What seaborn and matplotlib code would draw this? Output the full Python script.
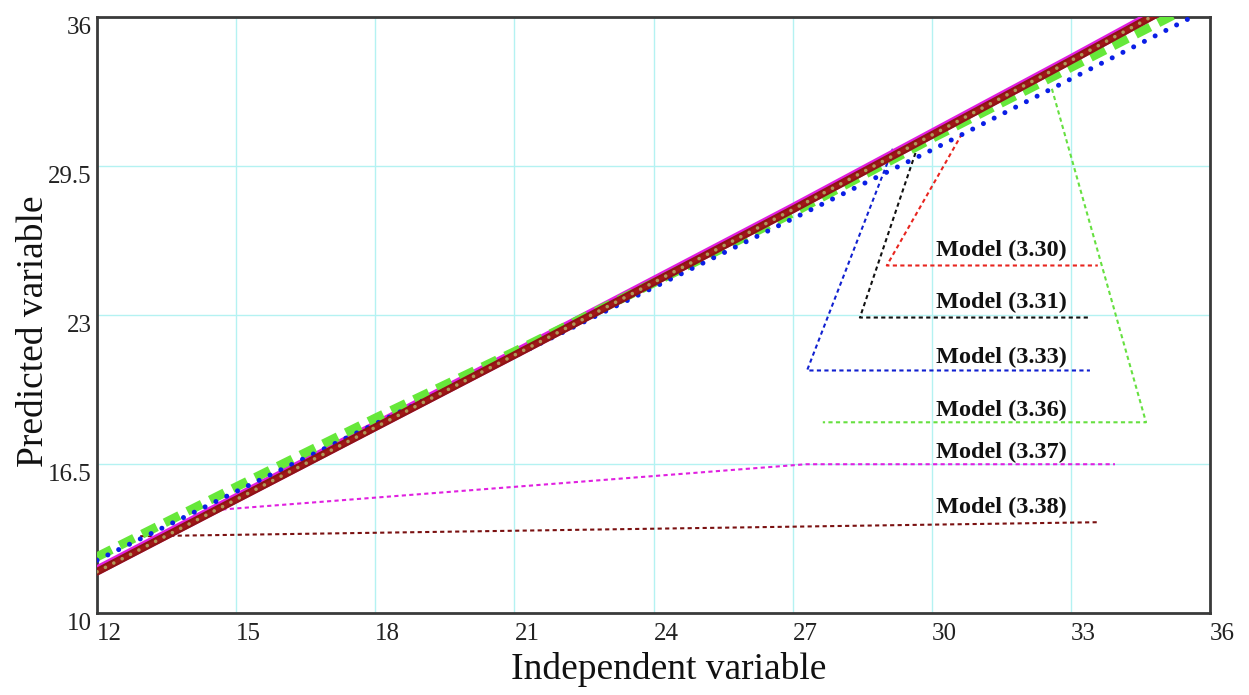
import matplotlib
matplotlib.use("Agg")
import matplotlib.pyplot as plt
import seaborn as sns
import pandas as pd

sns.set_theme(style="white")
plt.rcParams['font.family'] = ['Liberation Serif', 'DejaVu Serif']

# ---- data ----
x_vals = [12, 15, 18, 21, 24, 27, 30, 33, 36]
m330 = [11.80, 14.95, 18.10, 21.25, 24.42, 27.60, 30.85, 34.10, 37.40]
m331 = [11.80, 14.95, 18.10, 21.25, 24.42, 27.60, 30.85, 34.10, 37.40]
m333 = [12.30, 15.30, 18.25, 21.20, 24.20, 27.20, 30.20, 33.30, 36.40]
m336 = [12.45, 15.50, 18.50, 21.40, 24.40, 27.45, 30.70, 33.80, 36.90]
m337 = [11.86, 15.01, 18.16, 21.31, 24.48, 27.66, 30.91, 34.16, 37.46]
m338 = [11.80, 14.95, 18.10, 21.25, 24.42, 27.60, 30.85, 34.10, 37.40]

x_ticks = [12, 15, 18, 21, 24, 27, 30, 33, 36]
y_ticks = [10, 16.5, 23, 29.5, 36]
y_tick_labels = ["10", "16.5", "23", "29.5", "36"]

labels = ["Model (3.30)", "Model (3.31)", "Model (3.33)",
          "Model (3.36)", "Model (3.37)", "Model (3.38)"]
label_colors = ["#e8251f", "#111111", "#1020d0", "#66e040", "#e020e0", "#7a1010"]
# annotation text anchors (x, y) and leader polylines
text_x = [30.1, 30.1, 30.1, 30.1, 30.1, 30.1]
text_y = [25.80, 23.55, 21.15, 18.85, 17.00, 14.60]
leader_x = [[30.65, 29.03, 33.58],
            [29.70, 28.45, 33.41],
            [29.16, 27.31, 33.41],
            [32.59, 34.62, 27.65],
            [14.54, 27.29, 33.95],
            [12.93, 33.58]]
leader_y = [[30.90, 25.16, 25.16],
            [30.38, 22.89, 22.89],
            [30.25, 20.58, 20.58],
            [32.87, 18.32, 18.32],
            [14.49, 16.49, 16.49],
            [13.35, 13.96]]

df = pd.DataFrame({"x": x_vals, "m330": m330, "m331": m331, "m333": m333,
                   "m336": m336, "m337": m337, "m338": m338})

fig = plt.figure(figsize=(12.49, 6.95), dpi=100)
ax = fig.add_axes([0.0777, 0.118, 0.9688 - 0.0777, 0.9755 - 0.118])

# grid
ax.set_xticks(x_ticks)
ax.set_yticks(y_ticks)
ax.grid(True, color="#b4f2f2", lw=1.0)
ax.set_axisbelow(True)

# leader lines
for lx, ly, c in zip(leader_x, leader_y, label_colors):
    ax.plot(lx, ly, color=c, lw=1.5, ls=(0, (2.0, 1.6)), zorder=2)

# main curves
sns.lineplot(data=df, x="x", y="m337", ax=ax, color="#e020e0", lw=7, zorder=3)
sns.lineplot(data=df, x="x", y="m336", ax=ax, color="#66e83a", lw=6.5, zorder=3,
             linestyle=(0, (1.8, 1.0)))
sns.lineplot(data=df, x="x", y="m333", ax=ax, color="#0a1ee6", lw=3.6, zorder=4,
             linestyle=(0, (0.01, 2.4)), dash_capstyle="round")
sns.lineplot(data=df, x="x", y="m338", ax=ax, color="#8e1414", lw=5.5, zorder=5)
sns.lineplot(data=df, x="x", y="m330", ax=ax, color="#a01818", lw=2.5, zorder=5)
sns.lineplot(data=df, x="x", y="m331", ax=ax, color="#b09858", lw=2.6, zorder=6,
             linestyle=(0, (0.01, 2.6)), dash_capstyle="round")

# annotation texts
for tx, ty, t in zip(text_x, text_y, labels):
    ax.text(tx, ty, t, fontsize=17.5, fontweight="bold", color="#111111",
            ha="left", va="center", zorder=7)

ax.set_xlim(12, 36)
ax.set_ylim(10, 36)
ax.set_yticklabels(y_tick_labels)
ax.tick_params(axis="x", length=0, labelsize=18, colors="#222222", pad=7)
ax.tick_params(axis="y", length=0, labelsize=18, colors="#222222", pad=4)
for lab in ax.get_xticklabels():
    lab.set_ha("left")
for lab in ax.get_yticklabels():
    lab.set_va("top")

for s in ax.spines.values():
    s.set_visible(True)
    s.set_color("#3a3a3a")
    s.set_linewidth(2)

ax.set_xlabel("Independent variable", fontsize=27, color="#111111")
ax.set_ylabel("Predicted variable", fontsize=27, color="#111111")
ax.xaxis.set_label_coords(0.514, -0.066)
ax.yaxis.set_label_coords(-0.041, 0.473)

fig.savefig("out.png", dpi=100, facecolor="white")
